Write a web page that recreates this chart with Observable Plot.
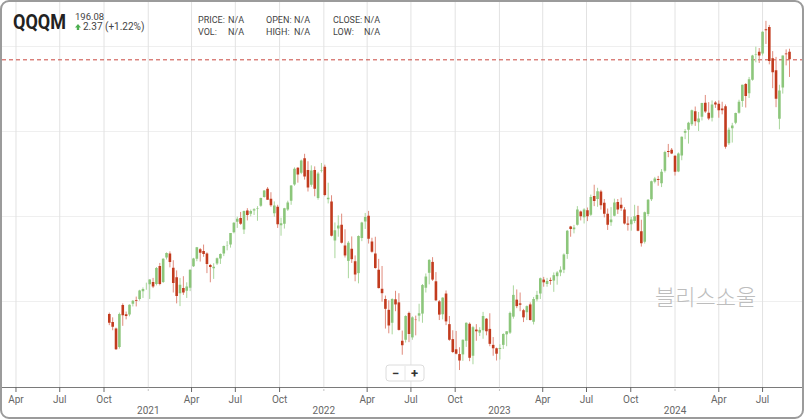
<!DOCTYPE html>
<html><head><meta charset="utf-8">
<script src="https://cdn.jsdelivr.net/npm/d3@7"></script>
<script src="https://cdn.jsdelivr.net/npm/@observablehq/plot@0.6"></script>
<style>
html,body{margin:0;padding:0;background:#fff;}
#wrap{position:relative;width:804px;height:419px;box-sizing:border-box;border:2px solid #9b9b9b;border-radius:9px;overflow:hidden;background:#fff;font-family:Roboto,sans-serif;}
#chart{position:absolute;left:0;top:0;}
#overlay{position:absolute;left:-2px;top:-2px;pointer-events:none;}
</style></head>
<body>
<div id="wrap"><div id="chart"></div>
<svg id="overlay" width="804" height="419" font-family="Roboto, sans-serif">
  <text x="13" y="29" font-size="20" font-weight="700" fill="#222" textLength="53" lengthAdjust="spacingAndGlyphs">QQQM</text>
  <text x="75" y="20" font-size="9.5" fill="#444">196.08</text>
  <path d="M78 24 L81 27.5 L79.2 27.5 L79.2 30 L76.8 30 L76.8 27.5 L75 27.5 Z" fill="#4caf50"/>
  <text x="83" y="30" font-size="10" fill="#444">2.37 (+1.22%)</text>
  <g font-size="9" fill="#444">
    <text x="198" y="23">PRICE:</text><text x="228" y="23">N/A</text>
    <text x="198" y="35">VOL:</text><text x="228" y="35">N/A</text>
    <text x="266" y="23">OPEN:</text><text x="294" y="23">N/A</text>
    <text x="266" y="35">HIGH:</text><text x="294" y="35">N/A</text>
    <text x="333" y="23">CLOSE:</text><text x="364" y="23">N/A</text>
    <text x="333" y="35">LOW:</text><text x="364" y="35">N/A</text>
  </g>
  <text x="655" y="305" font-size="22" font-weight="300" fill="#bdbdbd" font-family="'Noto Sans CJK KR', sans-serif">블리스소울</text>
  <rect x="386" y="365" width="38" height="16" rx="3" fill="#fff" stroke="#dcdcdc"/>
  <line x1="405" y1="366" x2="405" y2="380" stroke="#e6e6e6"/>
  <text x="395.5" y="377.5" font-size="13" font-weight="700" fill="#333" text-anchor="middle">−</text>
  <text x="414.5" y="377.5" font-size="13" font-weight="700" fill="#333" text-anchor="middle">+</text>
</svg>
</div>
<script>
const weeks = [
"2020-10-12","2020-10-19","2020-10-26","2020-11-02","2020-11-09","2020-11-16","2020-11-23","2020-11-30","2020-12-07","2020-12-14","2020-12-21","2020-12-28",
"2021-01-04","2021-01-11","2021-01-18","2021-01-25","2021-02-01","2021-02-08","2021-02-15","2021-02-22","2021-03-01","2021-03-08","2021-03-15","2021-03-22","2021-03-29",
"2021-04-05","2021-04-12","2021-04-19","2021-04-26","2021-05-03","2021-05-10","2021-05-17","2021-05-24","2021-05-31","2021-06-07","2021-06-14","2021-06-21","2021-06-28",
"2021-07-05","2021-07-12","2021-07-19","2021-07-26","2021-08-02","2021-08-09","2021-08-16","2021-08-23","2021-08-30","2021-09-06","2021-09-13","2021-09-20","2021-09-27",
"2021-10-04","2021-10-11","2021-10-18","2021-10-25","2021-11-01","2021-11-08","2021-11-15","2021-11-22","2021-11-29","2021-12-06","2021-12-13","2021-12-20","2021-12-27",
"2022-01-03","2022-01-10","2022-01-17","2022-01-24","2022-01-31","2022-02-07","2022-02-14","2022-02-21","2022-02-28","2022-03-07","2022-03-14","2022-03-21","2022-03-28",
"2022-04-04","2022-04-11","2022-04-18","2022-04-25","2022-05-02","2022-05-09","2022-05-16","2022-05-23","2022-05-30","2022-06-06","2022-06-13","2022-06-20","2022-06-27",
"2022-07-04","2022-07-11","2022-07-18","2022-07-25","2022-08-01","2022-08-08","2022-08-15","2022-08-22","2022-08-29","2022-09-05","2022-09-12","2022-09-19","2022-09-26",
"2022-10-03","2022-10-10","2022-10-17","2022-10-24","2022-10-31","2022-11-07","2022-11-14","2022-11-21","2022-11-28","2022-12-05","2022-12-12","2022-12-19","2022-12-26",
"2023-01-02","2023-01-09","2023-01-16","2023-01-23","2023-01-30","2023-02-06","2023-02-13","2023-02-20","2023-02-27","2023-03-06","2023-03-13","2023-03-20","2023-03-27",
"2023-04-03","2023-04-10","2023-04-17","2023-04-24","2023-05-01","2023-05-08","2023-05-15","2023-05-22","2023-05-29","2023-06-05","2023-06-12","2023-06-19","2023-06-26",
"2023-07-03","2023-07-10","2023-07-17","2023-07-24","2023-07-31","2023-08-07","2023-08-14","2023-08-21","2023-08-28","2023-09-04","2023-09-11","2023-09-18","2023-09-25",
"2023-10-02","2023-10-09","2023-10-16","2023-10-23","2023-10-30","2023-11-06","2023-11-13","2023-11-20","2023-11-27","2023-12-04","2023-12-11","2023-12-18","2023-12-25",
"2024-01-01","2024-01-08","2024-01-15","2024-01-22","2024-01-29","2024-02-05","2024-02-12","2024-02-19","2024-02-26","2024-03-04","2024-03-11","2024-03-18","2024-03-25",
"2024-04-01","2024-04-08","2024-04-15","2024-04-22","2024-04-29","2024-05-06","2024-05-13","2024-05-20","2024-05-27","2024-06-03","2024-06-10","2024-06-17","2024-06-24",
"2024-07-01","2024-07-08","2024-07-15","2024-07-22","2024-07-29","2024-08-05","2024-08-12","2024-08-19","2024-08-26"
];
const opens = [
121.2,118.8,116.9,111.5,123.8,121.1,121.0,124.2,125.2,125.6,127.9,129.3,
129.9,130.6,130.0,135.3,130.6,137.8,139.0,134.8,132.0,127.3,128.8,128.0,128.9,135.2,137.4,140.2,139.7,139.0,135.6,134.6,136.0,137.5,139.0,141.3,141.6,145.2,
148.3,149.4,146.0,151.6,150.7,151.6,152.1,153.0,155.6,158.0,155.1,150.8,152.7,147.3,147.7,151.9,154.5,159.3,164.2,162.7,167.0,163.5,159.2,163.5,155.3,163.4,
164.5,154.9,154.3,142.8,146.3,147.4,141.3,136.8,140.4,136.7,133.2,143.5,148.4,150.1,142.5,139.0,134.2,128.6,125.6,122.4,118.6,125.5,124.6,113.3,113.6,121.5,
114.3,119.5,120.7,121.3,128.9,133.3,136.5,130.8,124.9,121.1,127.2,118.2,113.8,110.8,109.4,109.3,113.3,118.3,108.9,116.6,115.7,116.4,119.8,116.8,112.1,111.1,
110.9,112.1,115.2,115.7,120.4,125.4,124.3,122.3,121.7,124.0,118.9,125.5,127.2,131.3,130.0,131.2,131.0,132.3,133.4,134.2,138.8,146.9,146.1,147.4,151.3,149.6,
151.7,150.4,155.9,155.0,157.2,153.9,150.7,148.2,150.1,154.1,153.3,151.9,147.8,147.6,148.5,150.3,145.5,142.4,150.6,154.9,160.1,160.9,159.6,163.3,169.1,169.5,
167.7,163.1,167.8,174.5,175.4,177.0,180.8,177.6,179.2,183.3,180.4,178.9,183.4,183.0,181.6,182.3,171.4,175.8,177.4,180.4,183.8,188.8,186.1,190.1,197.4,198.3,
197.8,204.9,205.6,196.4,192.9,178.6,187.8,197.8,198.3
];
const highs = [
121.6,120.2,117.2,121.6,124.3,121.9,124.0,125.3,126.3,128.3,129.0,130.4,
131.4,131.8,135.0,136.2,137.6,139.3,139.6,137.0,134.0,131.8,132.3,130.5,134.3,137.7,140.9,140.6,141.6,139.3,135.9,136.1,137.8,139.0,141.3,142.6,145.0,148.2,
149.8,151.2,151.6,152.3,151.9,152.3,152.9,155.4,157.6,158.5,157.0,154.3,153.3,149.5,152.4,154.5,159.1,164.3,164.4,166.6,168.3,166.1,164.9,164.6,163.0,165.6,
165.1,159.8,156.1,148.1,150.2,150.7,146.1,142.6,144.0,138.4,144.3,148.3,150.9,151.5,143.6,143.9,137.4,135.3,126.6,125.2,125.8,128.0,127.3,116.3,120.8,121.9,
120.5,120.7,124.2,130.0,133.1,137.3,137.9,133.5,125.3,126.1,128.1,120.6,116.4,116.2,111.4,113.7,118.7,118.7,117.7,118.2,117.3,121.8,120.0,121.4,114.4,111.3,
112.3,115.5,116.1,121.9,129.6,128.4,127.5,122.7,123.7,124.6,126.2,128.0,131.9,132.1,131.8,131.9,133.4,133.8,135.2,139.0,145.9,147.1,147.4,152.9,151.6,152.3,
152.5,156.3,159.2,158.3,157.7,155.0,152.2,152.6,155.1,155.0,155.4,152.6,149.9,149.7,153.3,153.0,148.9,151.3,155.0,160.4,161.5,161.8,163.8,169.2,171.2,170.0,
167.9,168.7,173.4,175.6,177.7,181.3,182.2,180.6,183.3,185.6,183.5,184.0,183.8,184.0,183.6,182.8,176.0,177.4,180.4,184.2,188.6,189.1,190.9,197.4,199.8,199.4,
204.3,207.4,206.2,198.5,196.8,188.6,197.2,199.0,199.2
];
const lows = [
117.9,116.4,110.6,111.0,117.7,119.6,120.5,123.4,123.4,125.1,125.9,128.3,
125.6,128.8,129.6,129.6,130.3,137.2,134.9,127.5,124.3,123.5,126.8,125.9,127.9,135.0,136.7,136.6,138.0,133.2,130.5,131.5,135.6,135.9,138.2,139.9,140.7,144.9,
146.5,147.4,144.7,148.7,149.9,150.3,148.6,152.7,155.4,154.8,152.7,149.8,146.5,144.2,146.3,151.5,153.3,158.9,159.8,162.3,160.7,157.2,158.6,155.8,154.8,162.8,
155.8,153.7,144.0,137.6,143.9,141.9,137.8,131.7,136.2,130.8,130.2,142.6,146.2,141.9,139.2,134.5,128.7,124.8,116.9,115.5,115.2,122.0,116.3,109.2,112.8,112.9,
113.6,114.9,119.0,118.6,127.5,129.9,130.9,125.0,119.4,119.6,117.9,113.3,109.7,109.3,104.7,107.4,111.5,107.3,106.4,113.3,114.7,113.9,114.9,111.7,108.9,107.5,
107.8,110.9,111.7,115.3,119.8,122.9,122.0,118.8,119.4,119.3,118.1,124.9,125.6,129.2,129.2,129.8,127.7,129.8,132.3,133.2,137.4,143.9,144.9,147.2,148.7,147.8,
148.5,150.0,152.9,152.7,151.9,149.6,145.9,147.1,149.9,150.6,151.5,147.5,145.7,145.7,147.9,145.5,141.0,141.9,150.0,154.4,159.6,158.9,158.5,162.8,167.3,168.2,
161.9,162.9,166.4,172.6,171.3,176.5,176.5,175.0,178.1,180.3,178.2,177.8,181.8,178.9,179.9,169.8,170.9,171.6,177.0,180.1,182.1,181.9,184.7,189.8,195.2,195.0,
197.2,200.6,194.6,187.6,182.0,175.5,186.0,194.3,190.9
];
const closes = [
118.6,117.4,110.8,121.2,120.8,120.6,123.9,125.1,125.0,128.1,128.5,129.3,
131.3,129.3,134.7,130.0,137.4,139.1,136.5,130.3,126.5,129.8,127.5,129.3,134.2,137.5,140.8,139.2,138.8,135.9,135.0,135.1,137.6,138.8,141.2,141.4,145.0,148.0,
149.2,147.7,151.5,150.3,151.5,152.0,152.3,155.3,157.5,154.8,153.2,153.1,147.6,147.9,152.3,154.0,159.0,163.9,162.2,166.3,161.6,158.4,163.4,158.0,162.5,163.5,
156.2,155.4,144.2,145.8,147.2,142.1,138.4,142.1,137.3,132.8,144.1,148.1,149.7,143.3,139.5,134.7,128.8,127.3,122.7,117.8,125.6,124.0,116.5,112.0,120.6,115.3,
120.2,119.4,121.4,129.7,132.2,137.1,131.3,125.2,121.0,126.0,119.0,113.6,110.0,109.5,107.5,113.6,118.6,108.3,117.3,116.1,116.5,120.6,116.1,112.4,111.1,109.5,
111.2,115.3,116.1,121.5,126.8,123.5,123.9,120.2,123.5,119.4,125.6,126.8,131.7,130.5,130.9,130.9,132.6,133.4,134.2,138.7,145.7,146.2,146.6,151.9,149.9,151.9,
149.9,155.6,154.4,157.3,153.2,150.7,147.4,149.0,154.0,151.9,152.3,147.8,147.4,149.0,149.9,145.7,142.0,151.1,154.8,160.2,161.0,160.6,163.0,168.8,168.8,168.4,
163.0,168.4,173.3,175.0,177.4,181.1,177.9,178.7,183.2,180.7,178.7,182.8,182.8,181.1,181.1,170.4,175.4,176.6,180.3,183.6,188.6,185.3,190.2,197.2,197.6,197.2,
204.2,204.6,195.6,192.3,184.5,186.9,197.2,197.6,196.1
];
const lastPrice = 196.08;
const gridPrices = [125, 150, 175, 200];
const quarterTicks = ["2020-04-01","2020-07-01","2020-10-01","2021-01-01","2021-04-01","2021-07-01","2021-10-01","2022-01-01","2022-04-01","2022-07-01","2022-10-01","2023-01-01","2023-04-01","2023-07-01","2023-10-01","2024-01-01","2024-04-01","2024-07-01"];
const monthTicks = ["2020-04-01","2020-07-01","2020-10-01","2021-04-01","2021-07-01","2021-10-01","2022-04-01","2022-07-01","2022-10-01","2023-04-01","2023-07-01","2023-10-01","2024-04-01","2024-07-01"];
const monthLabels = ["Apr","Jul","Oct","Apr","Jul","Oct","Apr","Jul","Oct","Apr","Jul","Oct","Apr","Jul"];
const yearTicks = ["2021-01-01","2022-01-01","2023-01-01","2024-01-01"];
const yearLabels = ["2021","2022","2023","2024"];

const UP = "#8cc67b", DOWN = "#c23b1e", UPWICK = "#a9d69c", DOWNWICK = "#e08b7c";
const candles = weeks.map((w, i) => ({date: new Date(w), open: opens[i], high: highs[i], low: lows[i], close: closes[i]}));
const toDate = s => new Date(s);
const mLab = new Map(monthTicks.map((t, i) => [+toDate(t), monthLabels[i]]));
const yLab = new Map(yearTicks.map((t, i) => [+toDate(t), yearLabels[i]]));

const chart = Plot.plot({
  width: 800, height: 415,
  marginTop: 0, marginBottom: 30, marginLeft: 0, marginRight: 0,
  style: {fontFamily: "Roboto, sans-serif", fontSize: "10px", background: "transparent"},
  x: {type: "utc", domain: [new Date("2020-03-04"), new Date("2024-09-22")]},
  y: {domain: [99.71, 212.94], axis: null},
  marks: [
    Plot.ruleY(gridPrices, {stroke: "#efefef", strokeWidth: 1}),
    Plot.ruleX(quarterTicks.map(toDate), {stroke: "#e2e2e2", strokeWidth: 1}),
    Plot.ruleY([lastPrice], {stroke: "#c9473f", strokeDasharray: "4,3", strokeWidth: 1}),
    Plot.ruleX(candles, {x: "date", y1: "low", y2: "high", stroke: d => d.close >= d.open ? UPWICK : DOWNWICK, strokeWidth: 1}),
    Plot.ruleX(candles, {x: "date", y1: "open", y2: "close", stroke: d => d.close >= d.open ? UP : DOWN, strokeWidth: 2.6}),
    Plot.frame({anchor: "bottom", stroke: "#7a7a7a"}),
    Plot.axisX({ticks: monthTicks.map(toDate), tickSize: 5, tickPadding: 3, tickFormat: d => mLab.get(+d), color: "#666", fontSize: 10}),
    Plot.axisX({ticks: yearTicks.map(toDate), tickSize: 5, tickFormat: () => "", stroke: "#888", strokeDasharray: "1,1.5"}),
    Plot.axisX({ticks: yearTicks.map(toDate), tickSize: 0, tickPadding: 19, tickFormat: d => yLab.get(+d), color: "#666", fontSize: 10})
  ]
});
document.getElementById("chart").appendChild(chart);
</script>
</body></html>
